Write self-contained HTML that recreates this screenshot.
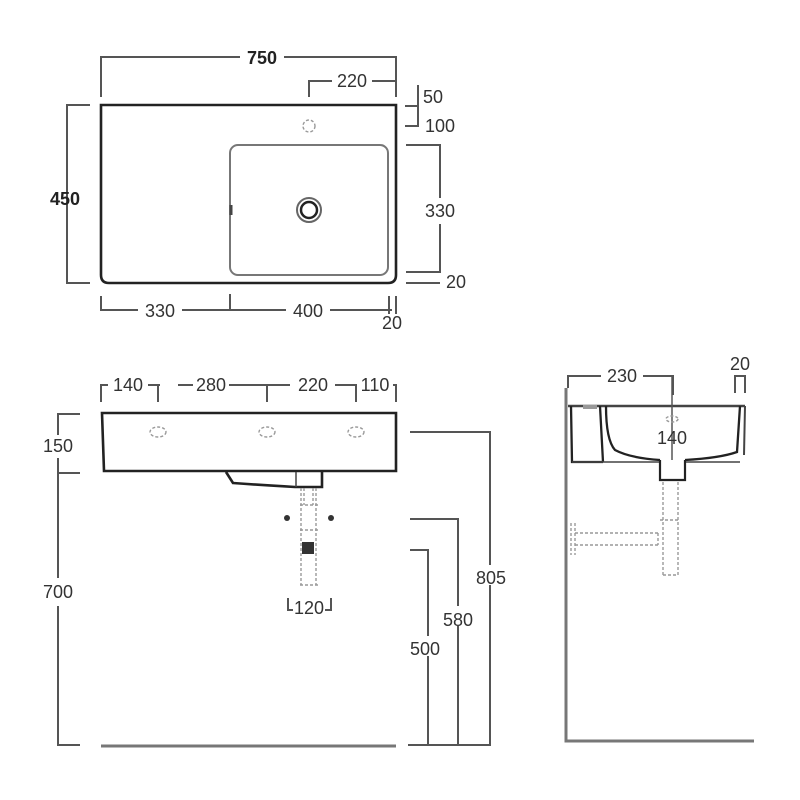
<!DOCTYPE html>
<html><head><meta charset="utf-8"><style>
html,body{margin:0;padding:0;background:#fff;}
svg{display:block;}
text{font-family:"Liberation Sans",sans-serif;font-size:18px;fill:#333;text-anchor:middle;}
.b{font-weight:bold;fill:#222;}
.d{fill:none;stroke:#555;stroke-width:2;}
.k{fill:none;stroke:#222;stroke-width:2.6;}
.g{fill:none;stroke:#777;stroke-width:2;}
.ds{fill:none;stroke:#999;stroke-width:1.4;stroke-dasharray:3 2;}
</style></head><body>
<svg width="800" height="800" viewBox="0 0 800 800" xmlns="http://www.w3.org/2000/svg">
<!-- TOP VIEW -->
<path class="k" d="M101 105 H396 V275 Q396 283 388 283 H109 Q101 283 101 275 Z"/>
<rect class="g" x="230" y="145" width="158" height="130" rx="8"/>
<line x1="231" y1="205" x2="231" y2="215" stroke="#444" stroke-width="3"/>
<circle cx="309" cy="210" r="12" fill="none" stroke="#666" stroke-width="2"/>
<circle cx="309" cy="210" r="8" fill="none" stroke="#222" stroke-width="2.5"/>
<circle class="ds" cx="309" cy="126" r="6"/>
<path class="d" d="M101 97 V57 H240 M284 57 H396 V97"/>
<text class="b" x="262" y="64">750</text>
<path class="d" d="M309 97 V81 H332 M372 81 H396"/>
<text x="352" y="87">220</text>
<path class="d" d="M418 85 V126 H405 M405 106 H418"/>
<text x="433" y="103">50</text>
<text x="440" y="132">100</text>
<path class="d" d="M406 145 H440 V198 M440 224 V272 H406 M406 283 H440"/>
<text x="440" y="217">330</text>
<text x="456" y="288">20</text>
<path class="d" d="M90 105 H67 V283 H90"/>
<text class="b" x="65" y="205">450</text>
<path class="d" d="M101 296 V310 H138 M182 310 H286 M330 310 H392 M230 294 V310 M389 296 V314 M396 296 V314"/>
<text x="160" y="317">330</text>
<text x="308" y="317">400</text>
<text x="392" y="329">20</text>
<!-- FRONT VIEW -->
<path class="k" d="M102 413 H396 V471 H104 Z"/>
<ellipse class="ds" cx="158" cy="432" rx="8" ry="5"/>
<ellipse class="ds" cx="267" cy="432" rx="8" ry="5"/>
<ellipse class="ds" cx="356" cy="432" rx="8" ry="5"/>
<path class="k" d="M226 472 L233 483 Q260 485 295 487 H322 V472" stroke-width="2"/>
<line x1="296" y1="472" x2="296" y2="487" stroke="#444" stroke-width="1.5"/>
<path class="ds" d="M301 488 V585 M316 488 V585 M300 505 H318 M300 530 H318 M300 585 H318 M304 488 V505 M313 488 V505"/>
<circle cx="287" cy="518" r="3" fill="#333"/>
<circle cx="331" cy="518" r="3" fill="#333"/>
<rect x="302" y="542" width="12" height="12" fill="#333"/>
<path class="d" d="M101 402 V385 H108 M148 385 H160 M158 385 V402 M178 385 H193 M229 385 H290 M267 385 V402 M335 385 H357 M356 385 V402 M393 385 H396 V402"/>
<text x="128" y="391">140</text>
<text x="211" y="391">280</text>
<text x="313" y="391">220</text>
<text x="375" y="391">110</text>
<path class="d" d="M288 598 V610 H293 M325 610 H331 V598" stroke-width="1.5"/>
<text x="309" y="614">120</text>
<path class="d" d="M80 414 H58 V435 M58 458 V578 M58 606 V745 H80 M58 473 H80"/>
<text x="58" y="452">150</text>
<text x="58" y="598">700</text>
<line x1="101" y1="746" x2="396" y2="746" stroke="#777" stroke-width="3"/>
<path class="d" d="M410 432 H490 V745 H408 M410 519 H458 V745 M410 550 H428 V745"/>
<rect x="472" y="565" width="36" height="20" fill="#fff"/>
<text x="491" y="584">805</text>
<rect x="439" y="606" width="38" height="20" fill="#fff"/>
<text x="458" y="626">580</text>
<rect x="406" y="636" width="38" height="20" fill="#fff"/>
<text x="425" y="655">500</text>
<!-- SIDE VIEW -->
<path d="M566 388 V741 H754" fill="none" stroke="#777" stroke-width="3"/>
<path class="d" d="M568 388 V376 H601 M643 376 H673 V395"/>
<text x="622" y="382">230</text>
<text x="740" y="370">20</text>
<path class="d" d="M735 393 V376 H745 V393" stroke-width="1.5"/>
<path d="M568 406 H745" stroke="#444" stroke-width="2.5"/>
<path d="M571 406 L572 462 H603 M600 406 L603 462 M606 406 Q606 440 615 450 Q630 458 660 460 M685 460 Q720 458 737 452 L740 406" fill="none" stroke="#222" stroke-width="2.3"/>
<path d="M745 406 L744 455" fill="none" stroke="#444" stroke-width="2"/>
<path d="M572 462 H660 M685 462 H740" fill="none" stroke="#444" stroke-width="1.5"/>
<rect x="583" y="405" width="14" height="4" fill="#999"/>
<path d="M660 460 V480 H685 V460" fill="none" stroke="#222" stroke-width="2.2"/>
<line x1="672" y1="376" x2="672" y2="460" stroke="#555" stroke-width="1.5"/>
<ellipse class="ds" cx="672" cy="419" rx="6" ry="3" stroke="#444"/>
<text x="672" y="444">140</text>
<path class="ds" d="M663 482 V575 M678 482 V575 M663 575 H678 M575 533 H658 M575 545 H660 M571 523 V555 M575 523 V555 M660 520 H678 M658 533 V545"/>
</svg>
</body></html>
